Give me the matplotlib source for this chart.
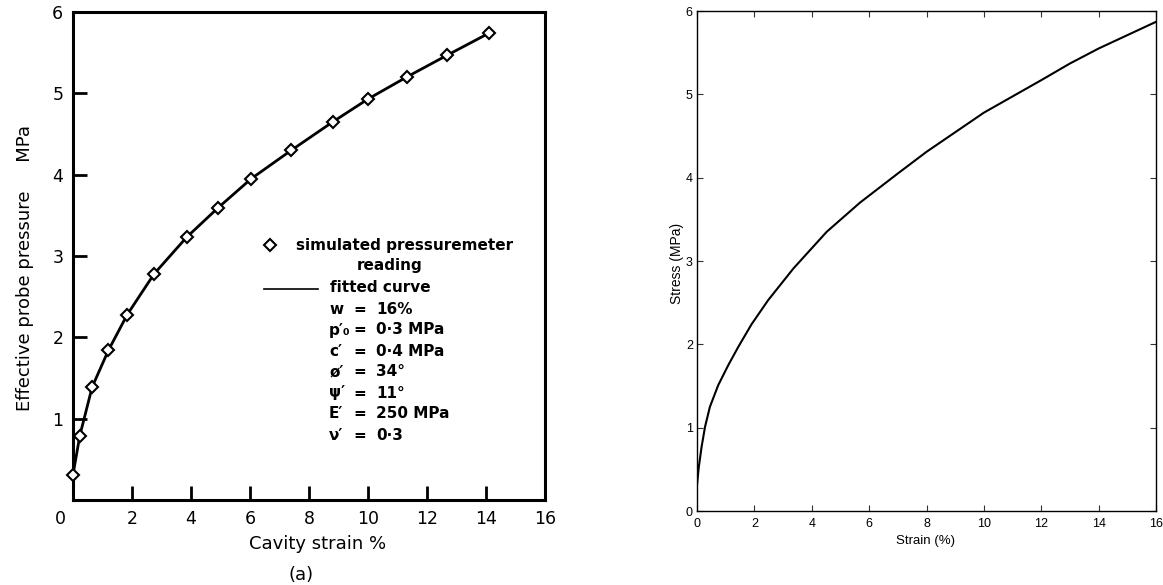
import matplotlib
matplotlib.use("Agg")
import matplotlib.pyplot as plt
from matplotlib.lines import Line2D
from matplotlib.transforms import ScaledTranslation

W, H, DPI = 1163, 585, 100

# ---------------- data ----------------
# (a) simulated pressuremeter readings (diamonds) / fitted curve
cavity_strain = [0.0, 0.23, 0.65, 1.2, 1.84, 2.75, 3.85, 4.91, 6.04, 7.4,
                 8.81, 10.0, 11.31, 12.69, 14.1]
probe_pressure = [0.31, 0.79, 1.39, 1.84, 2.28, 2.78, 3.23, 3.59, 3.95, 4.30,
                  4.65, 4.93, 5.20, 5.47, 5.74]

# right panel: stress-strain curve
strain = [0.0, 0.06, 0.16, 0.28, 0.45, 0.74, 1.09, 1.44, 1.90, 2.48, 3.36,
          4.52, 5.68, 7.0, 8.0, 10.0, 12.0, 13.0, 14.0, 15.0, 16.0]
stress = [0.31, 0.52, 0.77, 1.01, 1.25, 1.51, 1.75, 1.97, 2.24, 2.53, 2.91,
          3.35, 3.70, 4.05, 4.31, 4.78, 5.17, 5.37, 5.55, 5.71, 5.87]

left_xticks = [0, 2, 4, 6, 8, 10, 12, 14, 16]
left_yticks = [1, 2, 3, 4, 5, 6]
right_xticks = [0, 2, 4, 6, 8, 10, 12, 14, 16]
right_yticks = [0, 1, 2, 3, 4, 5, 6]

legend_params = [("w", "16%"), ("p\u2032\u2080", "0\u00b73 MPa"),
                 ("c\u2032", "0\u00b74 MPa"), ("\u00f8\u2032", "34\u00b0"),
                 ("\u03c8\u2032", "11\u00b0"), ("E\u2032", "250 MPa"),
                 ("\u03bd\u2032", "0\u00b73")]


def fx(x):
    return x / W


def fy(y):
    return 1 - y / H


fig = plt.figure(figsize=(W / DPI, H / DPI), dpi=DPI)
fig.patch.set_facecolor("white")

# ---------------- left panel (a) ----------------
axL = fig.add_axes([fx(73), fy(500), fx(545) - fx(73), fy(12) - fy(500)])
axL.plot(cavity_strain, probe_pressure, color="black", lw=2.0,
         marker="D", markersize=6.5, markerfacecolor="white",
         markeredgecolor="black", markeredgewidth=1.5, zorder=3,
         clip_on=False)
axL.set_xlim(0, 16)
axL.set_ylim(0, 6)
axL.set_xticks(left_xticks)
axL.set_yticks(left_yticks)
axL.set_xticklabels([str(v) for v in left_xticks])
axL.set_yticklabels([str(v) for v in left_yticks])
for s in axL.spines.values():
    s.set_linewidth(2.2)
axL.tick_params(direction="in", length=10, width=2, labelsize=12.5,
                pad=7, top=False, right=False)
lab0 = axL.get_xticklabels()[0]
lab0.set_transform(lab0.get_transform() +
                   ScaledTranslation(-13 / DPI, 0, fig.dpi_scale_trans))

fig.text(fx(25), fy(268), "Effective probe pressure     MPa", rotation=90,
         ha="center", va="center", fontsize=13)
fig.text(fx(318), fy(544), "Cavity strain %", ha="center", va="center",
         fontsize=13)
fig.text(fx(301), fy(575), "(a)", ha="center", va="center", fontsize=13)

# legend block
fig.add_artist(Line2D([fx(270)], [fy(245)], marker="D", markersize=6.5,
                      markerfacecolor="white", markeredgecolor="black",
                      markeredgewidth=1.5, transform=fig.transFigure))
fig.text(fx(296), fy(245), "simulated pressuremeter", ha="left",
         va="center", fontsize=11, fontweight="bold")
fig.text(fx(390), fy(266), "reading", ha="center", va="center",
         fontsize=11, fontweight="bold")
fig.add_artist(Line2D([fx(264), fx(318)], [fy(289), fy(289)], color="black",
                      lw=1.2, transform=fig.transFigure))
fig.text(fx(330), fy(288), "fitted curve", ha="left", va="center",
         fontsize=11, fontweight="bold")
row_y = [309, 330, 352, 372, 393, 414, 436]
for (sym, val), yy in zip(legend_params, row_y):
    fig.text(fx(329), fy(yy), sym, ha="left", va="center", fontsize=11,
             fontweight="bold")
    fig.text(fx(360), fy(yy), "=", ha="center", va="center", fontsize=11,
             fontweight="bold")
    fig.text(fx(376), fy(yy), val, ha="left", va="center", fontsize=11,
             fontweight="bold")

# ---------------- right panel ----------------
axR = fig.add_axes([fx(697), fy(511), fx(1156) - fx(697), fy(11) - fy(511)])
axR.plot(strain, stress, color="black", lw=1.5)
axR.set_xlim(0, 16)
axR.set_ylim(0, 6)
axR.set_xticks(right_xticks)
axR.set_yticks(right_yticks)
for s in axR.spines.values():
    s.set_linewidth(1.0)
axR.tick_params(direction="in", length=4, width=0.8, labelsize=9,
                top=True, right=True, color="#333333")
axR.tick_params(axis="x", pad=5)
axR.tick_params(axis="y", pad=3)
for lab in axR.get_xticklabels() + axR.get_yticklabels():
    lab.set_family("Liberation Sans")
fig.text(fx(926), fy(541), "Strain (%)", ha="center", va="center",
         fontsize=9.5, family="Liberation Sans")
fig.text(fx(677), fy(263), "Stress (MPa)", rotation=90, ha="center",
         va="center", fontsize=10, family="Liberation Sans")

fig.savefig("out.png", dpi=DPI, facecolor="white")
